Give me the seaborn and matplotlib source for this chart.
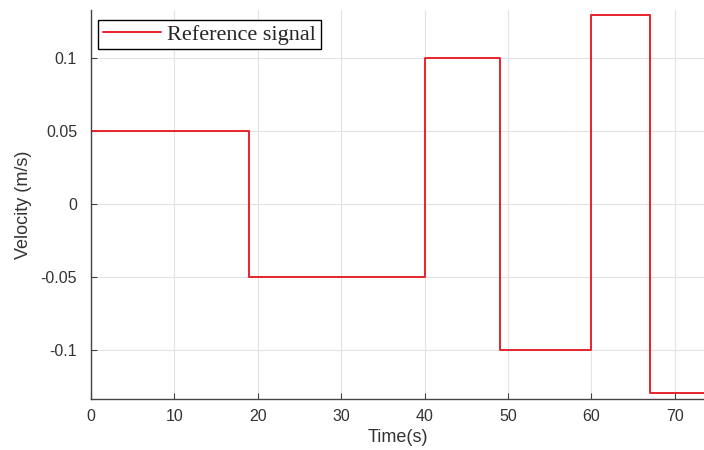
import matplotlib
matplotlib.use("Agg")
import matplotlib.pyplot as plt
import seaborn as sns
import pandas as pd

# Data
switch_times = [0, 19, 40, 49, 60, 67, 74]
velocity = [0.05, -0.05, 0.1, -0.1, 0.13, -0.13, -0.13]
x_ticks = [0, 10, 20, 30, 40, 50, 60, 70]
y_ticks = [-0.1, -0.05, 0, 0.05, 0.1]
y_tick_labels = ["-0.1", "-0.05", "0", "0.05", "0.1"]

sns.set_theme(style="white")
plt.rcParams['font.family'] = ['Liberation Sans', 'DejaVu Sans']

df = pd.DataFrame({"Time": switch_times, "Velocity": velocity})

fig = plt.figure(figsize=(7.04, 4.5), dpi=100)
ax = fig.add_axes([91/704, 1 - 399/450, 1 - 91/704, (399 - 10)/450])

sns.lineplot(data=df, x="Time", y="Velocity", ax=ax, drawstyle="steps-post",
             color="#e8232b", linewidth=1.4, label="Reference signal", sort=False)

ax.set_xlim(0, 73.5)
ax.set_ylim(-0.134, 0.1333)
ax.set_xticks(x_ticks)
ax.set_xticklabels([str(t) for t in x_ticks])
ax.set_yticks(y_ticks)
ax.set_yticklabels(y_tick_labels)

ax.grid(True, color="#e3e3e3", linewidth=0.8)
ax.set_axisbelow(True)
for s in ["top", "right"]:
    ax.spines[s].set_visible(False)
for s in ["left", "bottom"]:
    ax.spines[s].set_color("#444444")
    ax.spines[s].set_linewidth(1.0)

ax.tick_params(axis="both", direction="in", length=4, width=0.8, color="#444444",
               labelsize=11.5, labelcolor="#333333")
ax.tick_params(axis="x", bottom=True, pad=7)
ax.tick_params(axis="y", left=True, pad=10)

ax.set_xlabel("Time(s)", fontsize=13, color="#333333", labelpad=4)
ax.set_ylabel("Velocity (m/s)", fontsize=13, color="#333333", labelpad=6)

leg = ax.legend(loc="upper left", bbox_to_anchor=(0.012, 0.975), frameon=True,
                fancybox=False, edgecolor="black", framealpha=1,
                prop={"family": "Liberation Serif", "size": 16},
                handlelength=2.6, borderpad=0.2, handletextpad=0.3,
                borderaxespad=0.0)
leg.get_frame().set_linewidth(1.0)

fig.savefig("out.png", dpi=100)
